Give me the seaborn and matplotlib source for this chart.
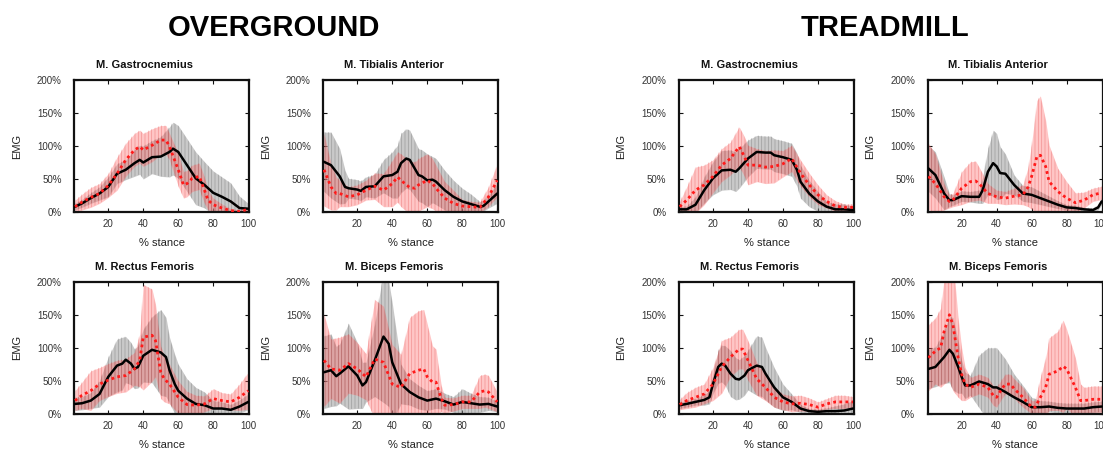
import numpy as np
import matplotlib
matplotlib.use("Agg")
import matplotlib.pyplot as plt
import seaborn as sns

# ---------------- data ----------------
# Overground - M. Gastrocnemius
OG_GAS_BLK_X = [1, 5, 10, 15, 20, 25, 30, 35, 38, 40, 45, 50, 55, 57, 60, 65, 70, 75, 80, 85, 90, 95, 100]
OG_GAS_BLK_M = [8, 13, 21, 28, 38, 58, 64, 74, 79, 75, 83, 84, 91, 96, 91, 71, 51, 41, 29, 23, 16, 6, 5]
OG_GAS_BLK_SD = [5, 6, 8, 10, 15, 15, 15, 20, 22, 25, 25, 30, 38, 40, 40, 40, 40, 35, 33, 30, 28, 18, 8]
OG_GAS_RED_X = [1, 5, 10, 15, 20, 25, 30, 35, 38, 40, 45, 50, 53, 55, 60, 63, 65, 68, 72, 75, 77, 80, 85, 90, 95, 100]
OG_GAS_RED_M = [8, 15, 22, 28, 40, 58, 79, 94, 99, 94, 101, 109, 109, 99, 64, 41, 43, 51, 54, 33, 18, 11, 6, 2, 1, 4]
OG_GAS_RED_SD = [10, 12, 15, 15, 18, 25, 25, 25, 25, 25, 25, 22, 22, 20, 25, 20, 20, 20, 20, 20, 15, 10, 6, 3, 2, 3]

# Overground - M. Tibialis Anterior
OG_TA_BLK_X = [1, 5, 10, 13, 15, 20, 22, 25, 30, 35, 40, 43, 45, 48, 50, 55, 57, 60, 63, 65, 70, 75, 80, 85, 90, 92, 95, 100]
OG_TA_BLK_M = [76, 71, 54, 38, 36, 34, 32, 38, 39, 54, 56, 61, 74, 81, 79, 56, 54, 48, 49, 46, 33, 23, 16, 12, 8, 9, 16, 28]
OG_TA_BLK_SD = [45, 50, 42, 25, 15, 15, 15, 15, 18, 25, 35, 40, 45, 45, 45, 40, 40, 40, 35, 35, 30, 25, 20, 15, 8, 8, 10, 15]
OG_TA_RED_X = [1, 5, 8, 10, 15, 20, 25, 30, 35, 40, 43, 45, 50, 53, 55, 60, 63, 65, 70, 75, 80, 85, 90, 95, 100]
OG_TA_RED_M = [64, 38, 28, 28, 23, 26, 33, 39, 33, 43, 53, 48, 37, 36, 41, 48, 43, 36, 21, 13, 9, 8, 7, 23, 48]
OG_TA_RED_SD = [55, 35, 25, 20, 15, 15, 15, 20, 25, 35, 38, 40, 40, 40, 40, 40, 38, 35, 25, 20, 10, 8, 8, 15, 25]

# Overground - M. Rectus Femoris
OG_RF_BLK_X = [1, 5, 10, 15, 20, 25, 28, 30, 33, 35, 37, 40, 45, 50, 53, 55, 58, 60, 65, 70, 75, 80, 85, 90, 95, 100]
OG_RF_BLK_M = [15, 16, 20, 30, 56, 73, 76, 82, 76, 68, 71, 88, 97, 93, 86, 66, 45, 35, 23, 15, 13, 8, 8, 6, 11, 18]
OG_RF_BLK_SD = [10, 10, 12, 20, 30, 40, 40, 35, 32, 30, 32, 40, 50, 65, 60, 50, 45, 40, 30, 25, 20, 12, 10, 8, 10, 12]
OG_RF_RED_X = [1, 5, 10, 15, 20, 25, 30, 35, 38, 40, 45, 47, 50, 52, 55, 60, 65, 70, 75, 80, 85, 90, 95, 100]
OG_RF_RED_M = [20, 28, 35, 45, 51, 56, 58, 68, 81, 116, 119, 111, 63, 53, 45, 25, 14, 13, 15, 23, 20, 18, 25, 35]
OG_RF_RED_SD = [15, 20, 30, 25, 25, 25, 25, 25, 40, 80, 70, 55, 40, 35, 30, 25, 20, 15, 12, 15, 12, 12, 20, 28]

# Overground - M. Biceps Femoris
OG_BF_BLK_X = [1, 5, 8, 10, 15, 20, 23, 25, 30, 35, 38, 40, 45, 50, 55, 60, 65, 70, 75, 80, 85, 90, 95, 100]
OG_BF_BLK_M = [63, 66, 57, 61, 72, 58, 43, 48, 81, 117, 106, 78, 45, 33, 25, 20, 23, 19, 14, 18, 16, 14, 15, 11]
OG_BF_BLK_SD = [55, 55, 45, 45, 65, 50, 35, 30, 55, 100, 95, 90, 30, 20, 18, 15, 15, 12, 12, 20, 15, 12, 10, 8]
OG_BF_RED_X = [1, 5, 10, 15, 20, 25, 30, 35, 40, 45, 50, 55, 58, 60, 63, 65, 68, 70, 75, 80, 85, 90, 93, 95, 100]
OG_BF_RED_M = [81, 68, 66, 76, 68, 56, 83, 78, 45, 40, 61, 66, 68, 56, 48, 48, 23, 13, 14, 18, 18, 33, 35, 33, 18]
OG_BF_RED_SD = [70, 45, 50, 45, 40, 35, 90, 85, 60, 50, 85, 90, 90, 80, 55, 50, 20, 12, 10, 10, 10, 25, 25, 25, 15]

# Treadmill - M. Gastrocnemius
TM_GAS_BLK_X = [1, 5, 10, 15, 20, 25, 30, 33, 35, 40, 45, 50, 53, 55, 60, 65, 68, 70, 75, 80, 85, 90, 95, 100]
TM_GAS_BLK_M = [4, 4, 11, 33, 51, 63, 64, 61, 66, 81, 91, 90, 90, 86, 83, 79, 64, 46, 28, 16, 8, 4, 4, 3]
TM_GAS_BLK_SD = [4, 5, 12, 20, 25, 30, 30, 30, 30, 28, 25, 25, 25, 25, 25, 25, 25, 25, 20, 15, 8, 8, 8, 5]
TM_GAS_RED_X = [1, 5, 10, 15, 20, 25, 30, 35, 38, 40, 45, 50, 55, 60, 65, 70, 75, 80, 85, 90, 95, 100]
TM_GAS_RED_M = [8, 18, 33, 41, 54, 71, 81, 99, 84, 71, 71, 68, 69, 73, 81, 59, 41, 26, 16, 9, 7, 7]
TM_GAS_RED_SD = [8, 20, 35, 30, 25, 25, 25, 30, 30, 30, 25, 25, 25, 20, 20, 20, 18, 15, 10, 8, 5, 5]

# Treadmill - M. Tibialis Anterior
TM_TA_BLK_X = [1, 5, 10, 13, 15, 20, 25, 30, 32, 35, 38, 40, 42, 45, 50, 55, 60, 65, 70, 75, 80, 85, 90, 95, 98, 100]
TM_TA_BLK_M = [66, 56, 28, 18, 18, 24, 23, 23, 33, 61, 74, 69, 59, 58, 41, 28, 26, 21, 16, 11, 7, 6, 4, 3, 7, 16]
TM_TA_BLK_SD = [35, 35, 25, 10, 8, 8, 8, 10, 20, 35, 50, 50, 40, 30, 15, 12, 12, 10, 8, 6, 4, 4, 3, 3, 4, 5]
TM_TA_RED_X = [1, 5, 10, 13, 15, 20, 25, 28, 30, 35, 40, 45, 50, 55, 58, 60, 63, 65, 68, 70, 75, 80, 85, 90, 95, 100]
TM_TA_RED_M = [54, 43, 23, 16, 18, 36, 46, 47, 43, 28, 23, 21, 24, 26, 38, 54, 84, 86, 69, 46, 31, 21, 14, 18, 26, 29]
TM_TA_RED_SD = [50, 45, 20, 10, 10, 25, 30, 30, 25, 15, 10, 10, 12, 15, 30, 50, 85, 90, 70, 55, 35, 25, 15, 12, 10, 10]

# Treadmill - M. Rectus Femoris
TM_RF_BLK_X = [1, 5, 10, 15, 18, 20, 23, 25, 27, 30, 33, 35, 38, 40, 45, 48, 50, 55, 60, 65, 70, 75, 80, 85, 90, 95, 100]
TM_RF_BLK_M = [13, 15, 18, 21, 25, 45, 71, 76, 73, 61, 53, 52, 58, 66, 73, 71, 61, 40, 25, 18, 8, 4, 3, 4, 4, 5, 8]
TM_RF_BLK_SD = [5, 5, 5, 8, 10, 15, 25, 28, 30, 35, 32, 30, 30, 30, 45, 45, 40, 30, 20, 12, 6, 4, 4, 5, 8, 10, 12]
TM_RF_RED_X = [1, 5, 10, 15, 20, 25, 30, 35, 37, 40, 45, 50, 55, 60, 65, 70, 75, 80, 85, 90, 95, 100]
TM_RF_RED_M = [14, 20, 25, 30, 45, 71, 86, 98, 98, 81, 53, 40, 25, 18, 15, 16, 14, 10, 15, 18, 18, 18]
TM_RF_RED_SD = [8, 12, 15, 15, 25, 40, 30, 30, 30, 30, 25, 20, 15, 12, 12, 12, 10, 8, 8, 10, 10, 8]

# Treadmill - M. Biceps Femoris
TM_BF_BLK_X = [1, 5, 10, 13, 15, 18, 20, 22, 25, 30, 35, 38, 40, 45, 50, 55, 60, 65, 70, 75, 80, 85, 90, 95, 100]
TM_BF_BLK_M = [68, 71, 86, 97, 91, 71, 56, 43, 43, 49, 45, 40, 40, 33, 25, 18, 10, 10, 11, 9, 8, 8, 8, 10, 11]
TM_BF_BLK_SD = [30, 30, 40, 50, 55, 40, 25, 20, 15, 40, 55, 60, 60, 50, 35, 25, 15, 10, 8, 8, 8, 8, 8, 8, 8]
TM_BF_RED_X = [1, 5, 8, 10, 13, 15, 18, 20, 22, 25, 30, 35, 38, 40, 43, 45, 48, 50, 55, 60, 62, 65, 68, 70, 75, 78, 80, 85, 88, 90, 95, 100]
TM_BF_RED_M = [85, 95, 100, 125, 150, 135, 85, 60, 45, 40, 45, 40, 28, 25, 38, 45, 45, 38, 25, 10, 10, 25, 40, 60, 65, 72, 68, 40, 20, 20, 22, 22]
TM_BF_RED_SD = [50, 50, 60, 80, 100, 100, 60, 40, 25, 15, 15, 15, 15, 15, 15, 15, 15, 15, 15, 10, 10, 30, 45, 55, 60, 70, 60, 45, 25, 20, 20, 20]

MUSCLES = ["M. Gastrocnemius", "M. Tibialis Anterior", "M. Rectus Femoris", "M. Biceps Femoris"]
GROUP_TITLES = ["OVERGROUND", "TREADMILL"]
X_TICKS = [20, 40, 60, 80, 100]
Y_TICKS = [0, 50, 100, 150, 200]
Y_TICK_LABELS = ["0%", "50%", "100%", "150%", "200%"]

PANELS = [
    [(OG_GAS_BLK_X, OG_GAS_BLK_M, OG_GAS_BLK_SD, OG_GAS_RED_X, OG_GAS_RED_M, OG_GAS_RED_SD),
     (OG_TA_BLK_X, OG_TA_BLK_M, OG_TA_BLK_SD, OG_TA_RED_X, OG_TA_RED_M, OG_TA_RED_SD),
     (OG_RF_BLK_X, OG_RF_BLK_M, OG_RF_BLK_SD, OG_RF_RED_X, OG_RF_RED_M, OG_RF_RED_SD),
     (OG_BF_BLK_X, OG_BF_BLK_M, OG_BF_BLK_SD, OG_BF_RED_X, OG_BF_RED_M, OG_BF_RED_SD)],
    [(TM_GAS_BLK_X, TM_GAS_BLK_M, TM_GAS_BLK_SD, TM_GAS_RED_X, TM_GAS_RED_M, TM_GAS_RED_SD),
     (TM_TA_BLK_X, TM_TA_BLK_M, TM_TA_BLK_SD, TM_TA_RED_X, TM_TA_RED_M, TM_TA_RED_SD),
     (TM_RF_BLK_X, TM_RF_BLK_M, TM_RF_BLK_SD, TM_RF_RED_X, TM_RF_RED_M, TM_RF_RED_SD),
     (TM_BF_BLK_X, TM_BF_BLK_M, TM_BF_BLK_SD, TM_BF_RED_X, TM_BF_RED_M, TM_BF_RED_SD)],
]

# ---------------- style ----------------
sns.set_theme(style="white")
plt.rcParams["font.family"] = ["Liberation Sans", "DejaVu Sans"]
plt.rcParams["hatch.linewidth"] = 0.5

W, H = 1103, 450
fig = plt.figure(figsize=(W / 100, H / 100), dpi=100)

col_left_px = [[74.3, 323.3], [679.0, 927.7]]
row_bottom_px = [212.0, 413.8]
ax_w_px, ax_h_px = 175.0, 132.0


def band(ax, x, m, sd, face, alpha, hatch_col):
    x = np.asarray(x, float)
    m = np.asarray(m, float)
    sd = np.asarray(sd, float)
    ax.fill_between(x, m - sd, m + sd, facecolor=face, alpha=alpha, linewidth=0, zorder=1)
    ax.fill_between(x, m - sd, m + sd, facecolor="none", edgecolor=hatch_col,
                    hatch="|||||", linewidth=0, zorder=1.5)


for g in range(2):
    for k in range(4):
        r, c = divmod(k, 2)
        left = col_left_px[g][c] / W
        bottom = (H - row_bottom_px[r]) / H
        ax = fig.add_axes([left, bottom, ax_w_px / W, ax_h_px / H])
        bx, bm, bsd, rx, rm, rsd = PANELS[g][k]

        band(ax, bx, bm, bsd, "#909090", 0.48, (0.3, 0.3, 0.3, 0.35))
        band(ax, rx, rm, rsd, "#ff6a6a", 0.38, (0.85, 0.15, 0.15, 0.32))

        sns.lineplot(x=bx, y=bm, ax=ax, color="black", linewidth=1.8, zorder=3)
        sns.lineplot(x=rx, y=rm, ax=ax, color="#ff1a1a", linewidth=2.0,
                     linestyle=(0, (1, 1.2)), zorder=4)

        ax.set_xlim(0.6, 100.6)
        ax.set_ylim(0, 200)
        ax.set_xticks(X_TICKS)
        ax.set_yticks(Y_TICKS)
        ax.set_yticklabels(Y_TICK_LABELS)
        ax.tick_params(direction="in", length=3, width=0.8, top=True, right=True,
                       bottom=True, left=True, labelsize=7, colors="#111111",
                       labelcolor="#333333")
        ax.tick_params(axis="y", pad=9)
        ax.tick_params(axis="x", pad=5)
        for s in ax.spines.values():
            s.set_linewidth(1.6)
            s.set_color("#111111")
        ax.set_xlabel("% stance", fontsize=8, color="#222222")
        ax.set_ylabel("EMG", fontsize=8, color="#222222")
        ax.xaxis.set_label_coords(0.5, -0.20)
        ax.yaxis.set_label_coords(-0.30, 0.5)
        ax.text(0.403, 1.114, MUSCLES[k], transform=ax.transAxes, ha="center",
                va="center", fontsize=8, fontweight="bold", color="#111111")

fig.text(274 / W, 1 - 28 / H, GROUP_TITLES[0], ha="center", va="center",
         fontsize=21, fontweight="bold", color="black")
fig.text(885 / W, 1 - 28 / H, GROUP_TITLES[1], ha="center", va="center",
         fontsize=21, fontweight="bold", color="black")

fig.savefig("out.png", dpi=100)
